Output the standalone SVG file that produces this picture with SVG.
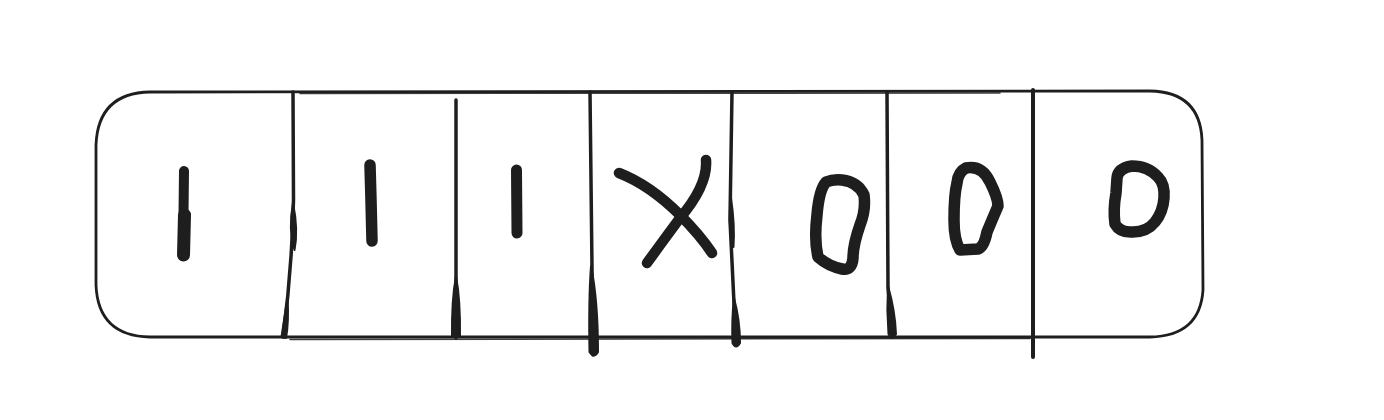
<svg xmlns="http://www.w3.org/2000/svg" width="1384" height="420" viewBox="0 0 1384 420">
  <style>
    .frame{fill:none;stroke:#1e1e1e;stroke-width:2.8;stroke-linejoin:round}
    .thin{fill:none;stroke:#1e1e1e;stroke-width:1.5;stroke-linecap:round;opacity:0.85}
    .div{fill:none;stroke:#1e1e1e;stroke-width:3.5;stroke-linecap:round}
    .blob{fill:#1e1e1e;stroke:#1e1e1e;stroke-width:2;stroke-linejoin:round}
    .mark{fill:none;stroke:#1e1e1e;stroke-width:11.5;stroke-linecap:round;stroke-linejoin:round}
  </style>
  <rect width="1384" height="420" fill="#ffffff"/>
  <g id="frame">
    <path class="frame" d="M150 92 L1150 91 Q1200 92 1202 140 L1203 290 Q1200 336 1150 337 L150 337 Q98 336 96 285 L96 145 Q98 93 150 92 Z"/>
    <path class="thin" d="M290 339.5 L1030 338.5"/>
    <path class="thin" d="M300 93.5 L1000 93"/>
  </g>
  <g id="dividers">
    <path class="div" d="M293 92 L293.5 200 Q292 270 283 337"/>
    <path class="blob" d="M293 203 Q298.5 230 294.5 250 Q288 230 293 203 Z"/>
    <path class="blob" d="M287.5 298 Q289 322 286 338 L281.5 337 Q284 320 287.5 298 Z"/>

    <path class="div" d="M456 100 L456 338"/>
    <path class="blob" d="M456 276 Q460.5 300 460 337 L452 337 Q451.5 300 456 276 Z"/>

    <path class="div" d="M590 92 L593 355"/>
    <path class="blob" d="M591 266 Q598 300 598 352 Q594 359 589.5 352 Q588.5 300 591 266 Z"/>

    <path class="div" d="M732 92 L730 220 L736 345"/>
    <path class="blob" d="M731 198 Q735 225 733.5 247 Q727.5 225 731 198 Z"/>
    <path class="blob" d="M734 298 Q740 320 740 343 Q736 350 732.5 343 Q731.5 320 734 298 Z"/>

    <path class="div" d="M887 92 L888 288 L893 337"/>
    <path class="blob" d="M888 286 Q895 310 896 334 Q892 341 888.5 334 Q886.5 310 888 286 Z"/>

    <path class="div" d="M1033 90 L1033 357" style="stroke-width:4"/>
  </g>
  <g id="cell-1">
    <path class="mark" d="M184 171 L183 256" style="stroke-width:10"/>
    <path class="mark" d="M184.5 215 L183.5 255" style="stroke-width:13"/>
  </g>
  <g id="cell-2">
    <path class="mark" d="M370 165 L371 200 L372 241" style="stroke-width:11.5"/>
  </g>
  <g id="cell-3">
    <path class="mark" d="M516.5 170 L517 233" style="stroke-width:11"/>
  </g>
  <g id="cell-4">
    <path class="mark" d="M619 173 Q650 185 680 215 Q700 235 712 253" style="stroke-width:10.5"/>
    <path class="mark" d="M706 160 Q708 185 680 218 Q660 245 647 263" style="stroke-width:10.5"/>
  </g>
  <g id="cell-5">
    <path class="mark" d="M842 180 Q858 182 864 195 Q866 210 860 225 Q853 245 853 258 Q852 271 842 269 Q828 266 818 257 Q814 240 817 215 Q819 190 826 182 Q833 179 842 180 Z"/>
  </g>
  <g id="cell-6">
    <path class="mark" d="M966 168 Q982 165 990 182 Q998 198 998 206 Q992 220 987 232 Q984 247 978 249 L960 250 Q954 240 954 220 Q954 195 957 183 Q958 172 966 168 Z"/>
  </g>
  <g id="cell-7">
    <path class="mark" d="M1117 178 Q1118 168 1132 166 Q1148 166 1158 177 Q1165 184 1164 198 Q1163 212 1155 222 Q1147 232 1133 232 Q1120 233 1115 224 Q1113 210 1116 193 L1117 178"/>
  </g>
</svg>
